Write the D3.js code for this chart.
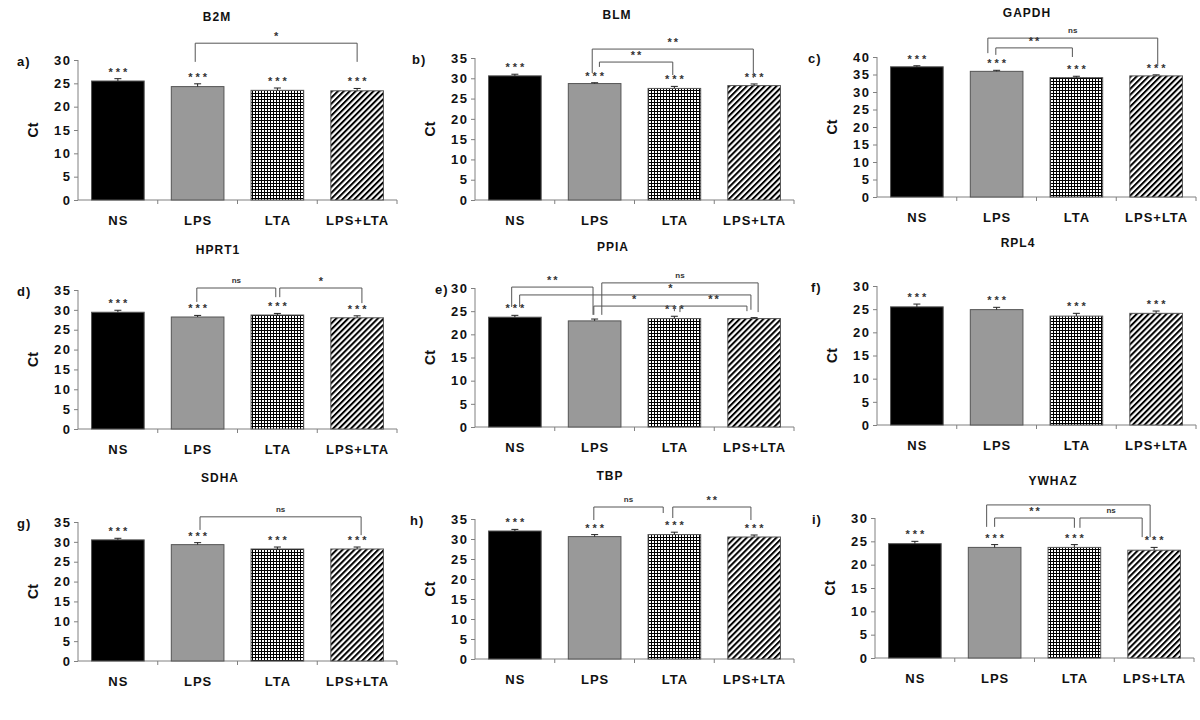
<!DOCTYPE html>
<html>
<head>
<meta charset="utf-8">
<script src="https://cdn.jsdelivr.net/npm/d3@7"></script>
<style>
  html, body { margin: 0; padding: 0; background: #fff; }
  svg { display: block; font-family: "Liberation Sans", Arial, sans-serif; }
</style>
</head>
<body>
<svg id="chart" width="1200" height="720"></svg>
<script>
// ---------- DATA ----------
const categories = ["NS", "LPS", "LTA", "LPS+LTA"];
const genes = ["B2M", "BLM", "GAPDH", "HPRT1", "PPIA", "RPL4", "SDHA", "TBP", "YWHAZ"];
const panelLetters = ["a)", "b)", "c)", "d)", "e)", "f)", "g)", "h)", "i)"];
const yMaxes = [30, 35, 40, 35, 30, 30, 35, 35, 30];
const yTickStep = 5;

// mean Ct values (NS, LPS, LTA, LPS+LTA)
const b2m   = [25.5, 24.3, 23.5, 23.4];
const blm   = [30.6, 28.7, 27.5, 28.2];
const gapdh = [37.2, 35.9, 34.1, 34.6];
const hprt1 = [29.4, 28.2, 28.7, 28.0];
const ppia  = [23.7, 22.9, 23.4, 23.4];
const rpl4  = [25.5, 24.9, 23.5, 24.1];
const sdha  = [30.5, 29.3, 28.2, 28.2];
const tbp   = [32.0, 30.6, 31.1, 30.5];
const ywhaz = [24.5, 23.7, 23.7, 23.1];

// error bar (SEM) sizes
const b2mErr   = [0.5, 0.6, 0.5, 0.5];
const blmErr   = [0.4, 0.2, 0.5, 0.4];
const gapdhErr = [0.3, 0.3, 0.4, 0.3];
const hprt1Err = [0.5, 0.4, 0.4, 0.5];
const ppiaErr  = [0.4, 0.4, 0.5, 0.2];
const rpl4Err  = [0.6, 0.5, 0.6, 0.5];
const sdhaErr  = [0.4, 0.5, 0.5, 0.5];
const tbpErr   = [0.4, 0.5, 0.6, 0.5];
const ywhazErr = [0.5, 0.6, 0.6, 0.6];

// significance vs. reference, per bar
const starsAll  = ["***", "***", "***", "***"];
const starsPPIA = ["***", "", "***", ""];

// pairwise comparison brackets: ends in category units, heights in Ct units
const bracketsB2M   = [{from: 0.97, to: 3.0, label: "*", top: 33.6, legL: 29.6, legR: 29.6}];
const bracketsBLM   = [{from: 0.97, to: 2.99, label: "**", top: 37.2, legL: 31.3, legR: 30.1},
                       {from: 1.06, to: 1.98, label: "**", top: 34.0, legL: 32.8, legR: 30.8}];
const bracketsGAPDH = [{from: 0.89, to: 3.02, label: "ns", top: 45.4, legL: 41.1, legR: 37.7},
                       {from: 0.99, to: 1.95, label: "**", top: 42.6, legL: 40.6, legR: 40.0}];
const bracketsHPRT1 = [{from: 0.99, to: 1.98, label: "ns", top: 35.5, legL: 32.0, legR: 33.2},
                       {from: 2.03, to: 3.06, label: "*", top: 35.5, legL: 33.2, legR: 31.7}];
const bracketsPPIA  = [{from: -0.04, to: 0.98, label: "**", top: 30.2, legL: 25.9, legR: 24.2},
                       {from: 0.06, to: 2.96, label: "*", top: 28.5, legL: 25.9, legR: 25.3, at: 1.95},
                       {from: 1.09, to: 3.05, label: "ns", top: 31.1, legL: 24.2, legR: 24.8},
                       {from: 0.99, to: 2.0, label: "*", top: 26.1, legL: 24.2, legR: 25.0},
                       {from: 2.07, to: 2.91, label: "**", top: 26.1, legL: 24.8, legR: 25.0}];
const bracketsRPL4  = [];
const bracketsSDHA  = [{from: 1.03, to: 3.05, label: "ns", top: 36.3, legL: 33.0, legR: 31.7}];
const bracketsTBP   = [{from: 0.99, to: 1.86, label: "ns", top: 38.0, legL: 34.75, legR: 36.5},
                       {from: 1.98, to: 2.96, label: "**", top: 38.0, legL: 35.25, legR: 34.75}];
const bracketsYWHAZ = [{from: 0.9, to: 2.95, label: "", top: 32.8, legL: 28.1, legR: 25.9},
                       {from: 1.0, to: 2.0, label: "**", top: 30.0, legL: 28.1, legR: 27.9},
                       {from: 2.07, to: 2.85, label: "ns", top: 30.0, legL: 27.9, legR: 25.9}];

const means    = [b2m, blm, gapdh, hprt1, ppia, rpl4, sdha, tbp, ywhaz];
const errs     = [b2mErr, blmErr, gapdhErr, hprt1Err, ppiaErr, rpl4Err, sdhaErr, tbpErr, ywhazErr];
const stars    = [starsAll, starsAll, starsAll, starsAll, starsPPIA, starsAll, starsAll, starsAll, starsAll];
const brackets = [bracketsB2M, bracketsBLM, bracketsGAPDH, bracketsHPRT1, bracketsPPIA,
                  bracketsRPL4, bracketsSDHA, bracketsTBP, bracketsYWHAZ];

// ---------- LAYOUT ----------
const axisX    = [78, 475, 877, 78, 475, 877, 78, 475, 875];
const axisBot  = [200, 200, 197, 429, 427, 425, 661, 659, 658];
const axisTop  = [60, 58, 57, 290, 288, 286, 522, 519, 518];
const titleDX  = [139, 142, 150, 140, 138, 141, 142, 135, 178];
const titleY   = [21, 19, 17, 254, 251, 247, 482, 480, 485];
const letterDX = [-61, -63, -69, -61, -40, -66, -61, -65, -63];
const plotW = 319;

const svg = d3.select("#chart");
const defs = svg.append("defs");

// grid (crosshatch) pattern
const grid = defs.append("pattern").attr("id", "gridPat")
  .attr("patternUnits", "userSpaceOnUse").attr("width", 3).attr("height", 3);
grid.append("rect").attr("width", 3).attr("height", 3).attr("fill", "#fff");
grid.append("path").attr("d", "M0,0.5H3M0.5,0V3").attr("stroke", "#000").attr("stroke-width", 1);

// diagonal stripe pattern
const diag = defs.append("pattern").attr("id", "diagPat")
  .attr("patternUnits", "userSpaceOnUse").attr("width", 4.2).attr("height", 4.2)
  .attr("patternTransform", "rotate(45)");
diag.append("rect").attr("width", 4.2).attr("height", 4.2).attr("fill", "#fff");
diag.append("rect").attr("width", 2).attr("height", 4.2).attr("fill", "#000");

const fills = ["#000", "#999999", "url(#gridPat)", "url(#diagPat)"];

genes.forEach((gene, p) => {
  const x0 = axisX[p], yb = axisBot[p], yt = axisTop[p];
  const g = svg.append("g");

  const x = d3.scaleBand().domain(categories).range([x0, x0 + plotW])
    .paddingInner(0.34).paddingOuter(0.17);
  const step = x.step();
  const xPos = v => x0 + (v + 0.5) * step;
  const y = d3.scaleLinear().domain([0, yMaxes[p]]).range([yb, yt]);

  // y axis
  const yAxis = d3.axisLeft(y).tickValues(d3.range(0, yMaxes[p] + 0.01, yTickStep))
    .tickSize(4).tickPadding(4);
  const ya = g.append("g").attr("transform", `translate(${x0},0)`).call(yAxis);
  ya.select(".domain").attr("stroke", "#808080").attr("d", `M0,${yb}V${yt}`);
  ya.selectAll(".tick line").attr("stroke", "#808080");
  ya.selectAll(".tick text").attr("fill", "#111").attr("font-size", 13)
    .attr("font-weight", "bold").attr("letter-spacing", "1.5px").attr("dx", "1.5")
    .attr("font-family", "Liberation Sans, Arial, sans-serif");

  // x axis: baseline with divider ticks between categories
  const xa = g.append("g");
  xa.append("line").attr("x1", x0).attr("x2", x0 + plotW).attr("y1", yb).attr("y2", yb)
    .attr("stroke", "#808080");
  xa.selectAll("line.div").data(d3.range(1, categories.length + 1)).enter().append("line")
    .attr("class", "div")
    .attr("x1", i => x0 + i * step).attr("x2", i => x0 + i * step)
    .attr("y1", yb).attr("y2", yb + 4).attr("stroke", "#808080");
  xa.selectAll("text").data(categories).enter().append("text")
    .attr("x", c => x(c) + x.bandwidth() / 2 + 0.5).attr("y", yb + 25)
    .attr("text-anchor", "middle").attr("font-size", 13).attr("font-weight", "bold")
    .attr("letter-spacing", "1px")
    .attr("fill", "#111").text(c => c);

  // bars
  g.selectAll("rect.bar").data(categories).enter().append("rect")
    .attr("class", "bar")
    .attr("x", c => x(c)).attr("width", x.bandwidth())
    .attr("y", (c, i) => y(means[p][i])).attr("height", (c, i) => yb - y(means[p][i]))
    .attr("fill", (c, i) => fills[i]).attr("stroke", "#555").attr("stroke-width", 1);

  // error bars (upper)
  categories.forEach((c, i) => {
    const cx = x(c) + x.bandwidth() / 2;
    const top = y(means[p][i] + errs[p][i]);
    g.append("path").attr("d", `M${cx},${y(means[p][i])}V${top}M${cx - 3.5},${top}H${cx + 3.5}`)
      .attr("stroke", "#222").attr("stroke-width", 1).attr("fill", "none");
    if (stars[p][i]) {
      g.append("text").attr("x", cx + 1.5).attr("y", top - 3)
        .attr("text-anchor", "middle").attr("font-size", 11).attr("font-weight", "bold")
        .attr("letter-spacing", "3px").attr("fill", "#333").text(stars[p][i]);
    }
  });

  // brackets
  brackets[p].forEach(b => {
    const xl = xPos(b.from), xr = xPos(b.to), yTop = y(b.top);
    g.append("path")
      .attr("d", `M${xl},${y(b.legL)}V${yTop}H${xr}V${y(b.legR)}`)
      .attr("stroke", "#555").attr("stroke-width", 1).attr("fill", "none");
    if (b.label) {
      const lx = b.at !== undefined ? xPos(b.at) : (xl + xr) / 2;
      const isNs = b.label === "ns";
      g.append("text").attr("x", lx + (isNs ? 0 : 1)).attr("y", yTop - (isNs ? 5 : 3))
        .attr("text-anchor", "middle").attr("font-weight", "bold")
        .attr("font-size", isNs ? 8 : 11).attr("letter-spacing", isNs ? "0px" : "2px")
        .attr("fill", "#333").text(b.label);
    }
  });

  // y label
  g.append("text").attr("transform", `translate(${x0 - 40},${(yb + yt) / 2}) rotate(-90)`)
    .attr("text-anchor", "middle").attr("font-size", 14).attr("font-weight", "bold")
    .attr("fill", "#111").text("Ct");

  // title
  g.append("text").attr("x", x0 + titleDX[p]).attr("y", titleY[p])
    .attr("text-anchor", "middle").attr("font-size", 12).attr("font-weight", "bold")
    .attr("letter-spacing", "1px").attr("fill", "#111").text(gene);

  // panel letter
  g.append("text").attr("x", x0 + letterDX[p]).attr("y", yt + 6)
    .attr("font-size", 13).attr("font-weight", "bold").attr("letter-spacing", "1px")
    .attr("fill", "#111").text(panelLetters[p]);
});
</script>
</body>
</html>
